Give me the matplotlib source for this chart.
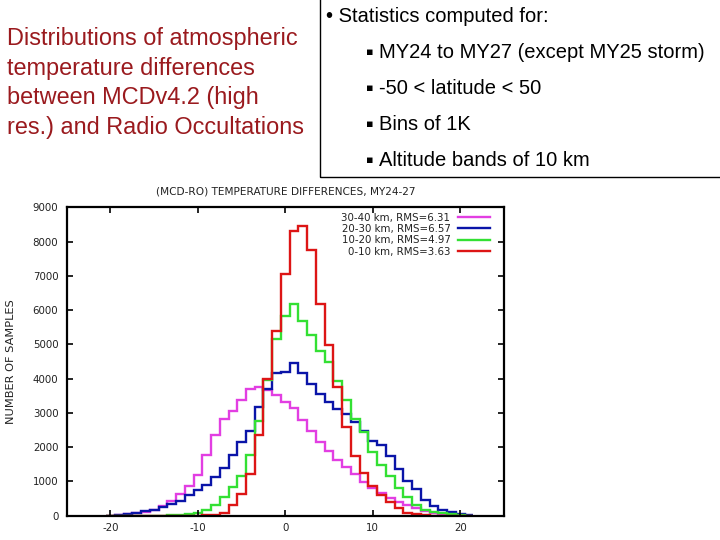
import numpy as np
import matplotlib
matplotlib.use("Agg")
from matplotlib import pyplot as plt
from matplotlib.patches import Rectangle

plt.rcParams["axes.unicode_minus"] = False

# bin centres (1 K bins) and sample counts per altitude band
centres = list(range(-20, 22))
n_30_40 = [0, 15, 40, 70, 110, 170, 280, 440, 640, 880,
           1200, 1760, 2360, 2830, 3060, 3380, 3690, 3770, 3660, 3520,
           3330, 3130, 2800, 2480, 2150, 1890, 1630, 1420, 1220, 970,
           800, 650, 530, 410, 310, 230, 150, 90, 50, 25,
           10, 0]
n_20_30 = [0, 30, 60, 90, 130, 180, 240, 330, 430, 590,
           750, 900, 1130, 1400, 1780, 2150, 2460, 3170, 3700, 4150,
           4200, 4450, 4150, 3830, 3560, 3320, 3110, 2980, 2740, 2470,
           2190, 2050, 1740, 1370, 1000, 770, 470, 280, 160, 110,
           60, 25]
n_10_20 = [0, 0, 0, 0, 0, 0, 0, 10, 25, 50,
           90, 160, 310, 540, 830, 1150, 1780, 2760, 3950, 5150,
           5820, 6170, 5680, 5260, 4800, 4480, 3920, 3370, 2815, 2450,
           1870, 1490, 1150, 820, 560, 310, 180, 120, 75, 40,
           15, 0]
n_0_10 = [0, 0, 0, 0, 0, 0, 0, 0, 0, 0,
          0, 10, 30, 80, 310, 620, 1230, 2350, 3980, 5380,
          7050, 8320, 8450, 7750, 6170, 4980, 3770, 2600, 1730, 1250,
          860, 600, 410, 220, 90, 40, 10, 0, 0, 0,
          0, 0]
labels = ["30-40 km, RMS=6.31", "20-30 km, RMS=6.57",
          "10-20 km, RMS=4.97", "0-10 km, RMS=3.63"]
colors = ["#e23ee2", "#0a14a8", "#33e033", "#dd1515"]

title_left = "Distributions of atmospheric\ntemperature differences\nbetween MCDv4.2 (high\nres.) and Radio Occultations"
head = "\u2022 Statistics computed for:"
items = ["MY24 to MY27 (except MY25 storm)", "-50 < latitude < 50",
         "Bins of 1K", "Altitude bands of 10 km"]

W, H = 720, 540
fig = plt.figure(figsize=(7.2, 5.4), dpi=100)
fig.patch.set_facecolor("white")

# left heading
fig.text(7 / W, 1 - 83 / H, title_left, color="#9a1a1e", fontsize=16.9,
         family=["Liberation Sans", "DejaVu Sans"], ha="left", va="center",
         linespacing=1.36)

# box with bullets
fig.add_artist(Rectangle((320 / W, 1 - 177 / H), 1.0, 1.0, transform=fig.transFigure,
                         fill=False, edgecolor="black", lw=1.0))
fig.text(326 / W, 1 - 16 / H, head, fontsize=14.5, color="black",
         family=["Liberation Sans", "DejaVu Sans"], ha="left", va="center")
for i, s in enumerate(items):
    y = 1 - (52 + 36 * i) / H
    fig.text(366 / W, y, "\u25aa", fontsize=8, family=["DejaVu Sans"],
             ha="left", va="center")
    fig.text(379 / W, y, s, fontsize=14.5, color="black",
             family=["Liberation Sans", "DejaVu Sans"], ha="left", va="center")

# histogram panel
ax = fig.add_axes([66.7 / W, 1 - 515.7 / H, 437.3 / W, 308.4 / H])
edges = np.append(np.array(centres) - 0.5, centres[-1] + 0.5)
for vals, lab, c in zip([n_30_40, n_20_30, n_10_20, n_0_10], labels, colors):
    ax.stairs(vals, edges, baseline=None, color=c, lw=1.7, label=lab)

ax.set_xlim(-25, 25)
ax.set_ylim(0, 9000)
ax.set_xticks([-20, -10, 0, 10, 20])
ax.set_yticks(range(0, 9001, 1000))
ax.tick_params(direction="in", length=4, width=1.2, top=True, right=True,
               labelsize=7.4, labelcolor="#222222")
ax.tick_params(axis="x", pad=5)
ax.tick_params(axis="y", pad=6)
for sp in ax.spines.values():
    sp.set_linewidth(1.6)
    sp.set_zorder(5)

ax.set_title("(MCD-RO) TEMPERATURE DIFFERENCES, MY24-27", fontsize=7.6,
             color="#222222", pad=9)
fig.text(11 / W, 1 - 361.5 / H, "NUMBER OF SAMPLES", rotation=90, fontsize=8.2,
         color="#222222", ha="center", va="center")

leg = ax.legend(loc="upper right", bbox_to_anchor=(0.968, 0.982), frameon=False,
                markerfirst=False, fontsize=7.4, handlelength=3.1,
                handletextpad=0.75, labelspacing=0.12, borderpad=0,
                borderaxespad=0)
for t in leg.get_texts():
    t.set_color("#222222")

fig.savefig("out.png", dpi=100)
